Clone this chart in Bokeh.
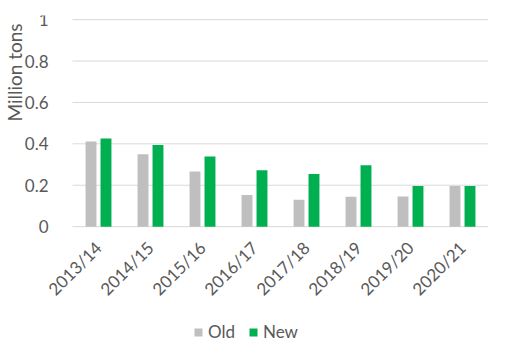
from bokeh.plotting import figure
from bokeh.models import ColumnDataSource, Range1d, FixedTicker, Legend, LegendItem, Label
from bokeh.transform import dodge
from bokeh.embed import file_html
from bokeh.resources import INLINE
import math

years = ["2013/14", "2014/15", "2015/16", "2016/17", "2017/18", "2018/19", "2019/20", "2020/21"]
old = [0.411, 0.350, 0.266, 0.153, 0.130, 0.145, 0.146, 0.196]
new = [0.426, 0.394, 0.339, 0.273, 0.254, 0.297, 0.196, 0.196]
y_ticks = [0, 0.2, 0.4, 0.6, 0.8, 1]
y_tick_labels = ["0", "0.2", "0.4", "0.6", "0.8", "1"]

FONT = "Lato"
TXT = "#595959"

pos = list(range(len(years)))
src = ColumnDataSource(dict(x=pos, years=years, old=old, new=new))

# frame spans the whole canvas width up to the right margin; 52 px per category
n = len(years)
p = figure(width=508, height=358,
           x_range=Range1d(-0.5 - 72 / 52, n - 0.5),
           y_range=Range1d(-0.637, 1.02), output_backend="svg", toolbar_location=None,
           min_border_left=0, min_border_right=20, min_border_top=15, min_border_bottom=0)
p.outline_line_color = None
p.background_fill_color = "white"
p.xgrid.grid_line_color = None
p.ygrid.grid_line_color = None

# horizontal gridlines across the category span
p.segment(x0=-0.5, x1=n - 0.5, y0=y_ticks, y1=y_ticks, line_color="#D9D9D9", line_width=1)

r_old = p.vbar(x=dodge("x", -0.144), top="old", width=0.21,
               source=src, fill_color="#BFBFBF", line_color=None)
r_new = p.vbar(x=dodge("x", 0.144), top="new", width=0.21,
               source=src, fill_color="#00B050", line_color=None)

p.yaxis.fixed_location = -0.5
p.yaxis.ticker = FixedTicker(ticks=y_ticks)
p.yaxis.major_label_overrides = {t: l for t, l in zip(y_ticks, y_tick_labels)}
p.yaxis.axis_line_color = None
p.yaxis.major_tick_line_color = None
p.yaxis.minor_tick_line_color = None
p.yaxis.major_label_standoff = 18
p.yaxis.major_label_text_font = FONT
p.yaxis.major_label_text_font_size = "17px"
p.yaxis.major_label_text_color = TXT

p.xaxis.fixed_location = 0
p.xaxis.ticker = FixedTicker(ticks=pos)
p.xaxis.major_label_overrides = {i: y for i, y in zip(pos, years)}
p.xaxis.axis_line_color = None
p.xaxis.major_tick_line_color = None
p.xaxis.minor_tick_line_color = None
p.xaxis.major_label_orientation = math.pi / 4
p.xaxis.major_label_standoff = 12
p.xaxis.major_label_text_font = FONT
p.xaxis.major_label_text_font_size = "17px"
p.xaxis.major_label_text_color = TXT

ylab = Label(x=14, y=286, x_units="screen", y_units="screen", text="Million tons",
             angle=math.pi / 2, text_align="center", text_baseline="middle",
             text_font=FONT, text_font_size="19px", text_color=TXT)
p.add_layout(ylab)

legend = Legend(items=[LegendItem(label="Old", renderers=[r_old]),
                       LegendItem(label="New", renderers=[r_new])],
                orientation="horizontal", location=(193, 16),
                glyph_width=10, glyph_height=10, label_standoff=5, spacing=13,
                padding=0, margin=0, border_line_color=None, background_fill_alpha=0,
                label_text_font=FONT, label_text_font_size="17px", label_text_color=TXT,
                label_height=18)
p.add_layout(legend, "center")

open("out.html", "w").write(file_html(p, INLINE))
